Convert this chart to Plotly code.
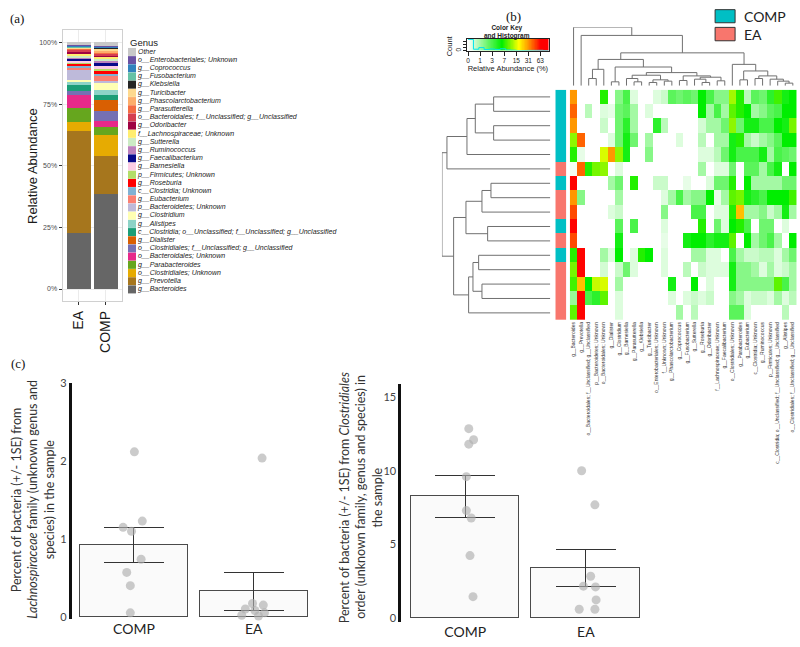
import numpy as np
import plotly.graph_objects as go

W, H = 800, 647
def fx(p):
    return p / W
def fy(p):
    return 1 - p / H

# ---------------- Panel (a): stacked relative abundance ----------------
samples_a = ["EA", "COMP"]
genera = [
    "Other", "o__Enterobacteriales; Unknown", "g__Coprococcus", "g__Fusobacterium",
    "g__Klebsiella", "g__Turicibacter", "g__Phascolarctobacterium", "g__Parasutterella",
    "o__Bacteroidales; f__Unclassified; g__Unclassified", "g__Odoribacter",
    "f__Lachnospiraceae; Unknown", "g__Sutterella", "g__Ruminococcus", "g__Faecalibacterium",
    "g__Barnesiella", "p__Firmicutes; Unknown", "g__Roseburia", "c__Clostridia; Unknown",
    "g__Eubacterium", "p__Bacteroidetes; Unknown", "g__Clostridium", "g__Alistipes",
    "c__Clostridia; o__Unclassified; f__Unclassified; g__Unclassified", "g__Dialister",
    "o__Clostridiales; f__Unclassified; g__Unclassified", "o__Bacteroidales; Unknown",
    "g__Parabacteroides", "o__Clostridiales; Unknown", "g__Prevotella", "g__Bacteroides",
]
genus_colors = [
    "#c8c8c8", "#6a51a3", "#3182bd", "#66c2a5", "#252525", "#fed98e", "#fdae6b", "#f46d43",
    "#d53e4f", "#9e0142", "#ffed6f", "#ccebc5", "#bc80bd", "#08088a", "#fccde5", "#b3de69",
    "#ff0000", "#80b1d3", "#fb8072", "#bebada", "#ffffb3", "#8dd3c7", "#1b9e77", "#d95f02",
    "#7570b3", "#e7298a", "#66a61e", "#e6ab02", "#a6761d", "#666666",
]
abund_EA = [1.0, 0.3, 0.3, 0.4, 0.1, 0.3, 0.3, 0.4, 0.7, 1.0, 0.4, 0.8, 0.5, 1.0, 0.5,
            0.5, 1.0, 0.5, 1.3, 4.0, 0.5, 1.3, 2.4, 0.2, 1.6, 5.3, 5.6, 3.6, 41.5, 22.5]
abund_COMP = [1.3, 0.3, 0.4, 0.3, 0.4, 0.5, 0.8, 0.6, 0.8, 0.5, 0.8, 0.5, 0.8, 1.6, 1.1,
              0.6, 1.6, 0.7, 2.0, 0.6, 3.3, 2.0, 2.0, 4.5, 4.0, 2.5, 3.0, 8.5, 15.5, 38.5]
pct_ticks = [0, 0.25, 0.5, 0.75, 1.0]
pct_labels = ["0%", "25%", "50%", "75%", "100%"]

# ---------------- Panel (b): heatmap ----------------
hm_cols = [
    "g__Bacteroides", "g__Prevotella", "o__Bacteroidales; f__Unclassified; g__Unclassified",
    "p__Bacteroidetes; Unknown", "o__Bacteroidales; Unknown", "g__Dialister", "g__Clostridium",
    "g__Barnesiella", "g__Parasutterella", "g__Klebsiella", "g__Turicibacter",
    "o__Enterobacteriales; Unknown", "f__Unknown; Unknown", "g__Phascolarctobacterium",
    "g__Coprococcus", "g__Fusobacterium", "g__Sutterella", "g__Roseburia", "g__Odoribacter",
    "f__Lachnospiraceae; Unknown", "g__Faecalibacterium", "o__Clostridiales; Unknown",
    "g__Parabacteroides", "g__Eubacterium", "c__Clostridia; Unknown", "g__Ruminococcus",
    "p__Firmicutes; Unknown", "c__Clostridia; o__Unclassified; f__Unclassified; g__Unclassified",
    "g__Alistipes", "o__Clostridiales; f__Unclassified; g__Unclassified",
]
hm_groups = ["COMP", "COMP", "COMP", "COMP", "COMP", "EA", "COMP", "EA",
             "EA", "COMP", "EA", "COMP", "EA", "EA", "EA", "EA"]
hm_values = [
    [31, 0, 0, 0, 7, 0, 1.5, 3, 0.3, 0, 0, 0.3, 0.5, 2.5, 2, 2.5, 2, 6, 3, 1.5, 1.5, 12, 7, 0.7, 2.5, 2, 4, 8, 5, 6],
    [40, 0, 0.7, 0, 0.3, 0.2, 2, 2.5, 1, 0, 0.3, 0, 0, 0, 0, 0, 0, 6, 1, 3, 1, 9, 7, 6, 1, 1.5, 2.5, 3, 6, 6],
    [31, 0, 0, 0, 0.5, 0, 2, 4, 1, 0, 0, 4, 0.7, 0, 0, 0, 0, 0.4, 1, 1, 2, 11, 2, 5, 5, 3, 3, 6, 5, 10],
    [11, 40, 0, 0, 0, 0.3, 2, 5, 2, 0, 1, 0, 0, 0, 0.3, 0, 0, 0.7, 0, 1, 1, 5, 7, 1, 0.5, 1, 1.5, 2.5, 6, 6],
    [7, 0.2, 0, 0, 15, 31, 11, 5, 0, 0, 1.5, 0, 0, 0, 0, 0, 0, 0.3, 0.3, 0.7, 2, 5, 3, 3, 3, 5, 1, 3, 2.5, 2],
    [0.1, 40, 7, 10, 11, 0, 0.3, 0, 0, 0, 0, 0, 0, 0, 0, 0, 0, 1, 0, 0.3, 0.3, 2, 0, 2.5, 2.5, 1, 3, 5, 0, 6],
    [63, 0, 0, 0, 0, 1, 2, 0, 7, 0, 0, 0.5, 0.5, 0, 0, 0.2, 0, 0, 0.3, 2, 2, 7, 0, 6, 1, 1, 1, 1, 2, 2],
    [31, 1.5, 0, 0, 0, 0, 1, 0, 0, 0, 0, 0, 0.3, 1, 3, 1, 1.5, 1.5, 6, 0.2, 1, 9, 10, 5, 4, 3, 6, 6, 6, 8],
    [45, 0, 0, 0, 0, 0.3, 0.5, 0, 0, 0, 0, 0, 1.5, 0, 0, 0, 3, 3, 0, 0.3, 0.3, 7, 25, 1, 1, 1.5, 0.5, 1, 5, 1],
    [63, 0, 0, 0, 0, 0, 2.5, 0, 3, 0, 0, 0, 0.3, 0, 0, 0, 0, 7, 0, 2, 0.3, 6, 7, 3, 0, 2, 2, 0, 0.3, 0],
    [45, 0, 0, 0, 0, 0, 5, 0, 0, 0, 0, 0, 0.2, 0, 0, 5, 6, 6, 4, 5, 5, 9, 0, 6, 1, 2, 3, 1, 0, 6],
    [7, 63, 0, 0, 1, 0.3, 6, 0, 0.3, 7, 6, 0, 0.3, 0, 0, 0, 1, 1, 0.3, 0.3, 0, 3, 1, 0.5, 0.5, 0.7, 0.7, 0.3, 1, 2],
    [10, 63, 0, 0, 0.4, 0, 0.5, 2, 0.3, 0, 0, 0, 0.3, 0, 0, 0.7, 0, 0.5, 0.3, 0.3, 0.3, 5, 1.5, 1.5, 1, 0.3, 1, 0.3, 0.5, 1],
    [8, 25, 6, 14, 15, 0, 1, 0, 0, 0, 0, 0, 0, 5, 0, 0, 6, 0, 0.3, 0, 0, 5, 1.5, 1.5, 1.5, 1.5, 1.5, 9, 3, 1],
    [1.2, 63, 3, 4, 9, 0, 0.3, 0, 0, 0, 0, 0, 0, 0.3, 0, 0.3, 0.5, 0.3, 0.5, 0, 0, 1.5, 1, 0.3, 0.5, 0.5, 0.3, 1, 0.3, 0.7],
    [9, 63, 0, 0, 0, 0, 0.3, 0, 0, 0, 0, 0, 0, 0, 1, 0, 0.7, 0, 0, 0, 0, 2.5, 2.5, 0.3, 0, 0, 0, 0, 0.7, 0],
]
key_ticks = [0, 1, 3, 7, 15, 31, 63]
key_max = 6.69

# dendrograms: (left, right, height); ints are leaf display positions
row_tree = (((((0, 1, 170), (2, 3, 170), 225), 4, 250), 5, 310),
            ((((6, 7, 178), 8, 205), (9, 10, 188), 253),
             ((((11, 12, 215), (13, 14, 205), 232), 15, 245)), 290), 325)
col_tree = (0, (1, ((((2, 3, 22), 4, 50),
                     ((5, 6, 12),
                      (((7, (8, 9, 12), 22), ((10, 11, 10), (12, 13, 14), 18), 32),
                       ((14, 15, 16), ((16, (17, 18, 10), 20), (19, 20, 15), 26), 30), 40), 57), 80),
                    (21, ((22, 23, 18), ((24, 25, 22), (26, (27, (28, 29, 8), 14), 20), 30), 45), 65),
                    100), 153), 178)

# ---------------- Panel (c) ----------------
c_groups = ["COMP", "EA"]
lach_comp = [2.12, 1.23, 1.15, 1.10, 0.74, 0.57, 0.40, 0.05]
lach_comp_dx = [0.004, 0.07, -0.09, -0.02, 0.06, -0.06, -0.03, -0.03]
lach_ea = [2.04, 0.17, 0.15, 0.10, 0.08, 0.05, 0.02, 0.01]
lach_ea_dx = [0.07, -0.01, 0.08, -0.07, 0.01, 0.09, -0.10, 0.04]
clos_comp = [12.85, 12.1, 11.8, 9.6, 7.3, 6.8, 4.25, 1.47]
clos_comp_dx = [0.03, 0.07, 0.03, 0.01, 0.01, 0.05, 0.04, 0.065]
clos_ea = [10.0, 7.69, 2.85, 2.18, 2.13, 1.25, 0.62, 0.62]
clos_ea_dx = [-0.035, 0.075, 0.04, -0.02, 0.08, 0.085, -0.055, 0.075]

# ======================================================================
fig = go.Figure()
SANS = "Liberation Sans"
LATO = "Lato"

# ---- (a) stacked bars ----
tot_ea = sum(abund_EA)
tot_comp = sum(abund_COMP)
for i in reversed(range(len(genera))):
    fig.add_trace(go.Bar(
        x=samples_a, y=[abund_EA[i] / tot_ea, abund_COMP[i] / tot_comp],
        marker=dict(color=genus_colors[i], line=dict(width=0)), width=0.9,
        name=genera[i], showlegend=False, xaxis="x", yaxis="y"))

# ---- (a) legend as a marker column ----
fig.add_trace(go.Scatter(
    x=[0] * len(genera), y=list(range(len(genera))), mode="markers+text",
    marker=dict(symbol="square", size=8, color=genus_colors, line=dict(width=0)),
    text=["<i>" + g + "</i>" for g in genera], textposition="middle right",
    textfont=dict(family=SANS, size=7, color="#222222"),
    showlegend=False, hoverinfo="skip", xaxis="x2", yaxis="y2", cliponaxis=False))

# ---- (b) heatmap ----
zlog = np.log2(np.array(hm_values, dtype=float) + 1)
cscale = [[0, "#ffffff"], [0.42, "#00ee00"], [0.63, "#ffff00"], [0.76, "#ff8c00"],
          [0.9, "#ff0000"], [1, "#ff0000"]]
fig.add_trace(go.Heatmap(z=zlog, x=list(range(len(hm_cols))), y=list(range(len(hm_groups))),
                         colorscale=cscale, zmin=0, zmax=key_max, showscale=False,
                         xaxis="x3", yaxis="y3", hoverinfo="skip"))
grp_code = [[0 if g == "COMP" else 1] for g in hm_groups]
fig.add_trace(go.Heatmap(z=grp_code, x=[0], y=list(range(len(hm_groups))),
                         colorscale=[[0, "#00BFC4"], [0.5, "#00BFC4"], [0.5, "#F8766D"], [1, "#F8766D"]],
                         zmin=0, zmax=1, showscale=False, xaxis="x4", yaxis="y4", hoverinfo="skip"))

def dendro(node, pos_list, h_list):
    if isinstance(node, int):
        return float(node), 0.0
    left, right, h = node
    lp, lh = dendro(left, pos_list, h_list)
    rp, rh = dendro(right, pos_list, h_list)
    pos_list += [lp, lp, rp, rp, None]
    h_list += [lh, h, h, rh, None]
    return (lp + rp) / 2, h

rp_, rh_ = [], []
dendro(row_tree, rp_, rh_)
fig.add_trace(go.Scatter(x=rh_, y=rp_, mode="lines", line=dict(color="#707070", width=1),
                         showlegend=False, hoverinfo="skip", xaxis="x5", yaxis="y5"))
cp_, ch_ = [], []
dendro(col_tree, cp_, ch_)
fig.add_trace(go.Scatter(x=cp_, y=ch_, mode="lines", line=dict(color="#707070", width=1),
                         showlegend=False, hoverinfo="skip", xaxis="x6", yaxis="y6"))

# ---- (b) colour key + histogram ----
key_z = np.linspace(-0.08, key_max, 140)
fig.add_trace(go.Heatmap(z=[key_z], x=key_z, y=[0.5], colorscale=cscale, zmin=0, zmax=key_max,
                         showscale=False, xaxis="x7", yaxis="y7", hoverinfo="skip"))
counts, edges = np.histogram(zlog.flatten(), bins=np.linspace(0, key_max, 16))
hist_y = list(counts / counts.max() * 0.95) + [counts[-1] / counts.max() * 0.95]
fig.add_trace(go.Scatter(x=list(edges), y=hist_y, mode="lines", line=dict(color="#00e5ee", width=1, shape="hv"),
                         showlegend=False, hoverinfo="skip", xaxis="x7", yaxis="y7"))

# ---- (c) bar charts ----
def mean_se(v):
    a = np.array(v)
    return a.mean(), a.std(ddof=1) / np.sqrt(len(a))

def add_c(comp, comp_dx, ea, ea_dx, xa, ya):
    m1, s1 = mean_se(comp)
    m2, s2 = mean_se(ea)
    fig.add_trace(go.Bar(x=[0, 1], y=[m1, m2], width=0.9,
                         marker=dict(color="#fafafa", line=dict(color="#4a4a4a", width=1)),
                         error_y=dict(type="data", array=[s1, s2], color="#333333", thickness=1, width=30),
                         showlegend=False, hoverinfo="skip", xaxis=xa, yaxis=ya))
    xs = [0 + d for d in comp_dx] + [1 + d for d in ea_dx]
    fig.add_trace(go.Scatter(x=xs, y=list(comp) + list(ea), mode="markers",
                             marker=dict(size=9, color="rgba(175,175,175,0.65)", line=dict(width=0)),
                             showlegend=False, hoverinfo="skip", xaxis=xa, yaxis=ya, cliponaxis=False))

add_c(lach_comp, lach_comp_dx, lach_ea, lach_ea_dx, "x8", "y8")
add_c(clos_comp, clos_comp_dx, clos_ea, clos_ea_dx, "x9", "y9")

# ======================================================================
def blank(domain, rng, anchor, **kw):
    d = dict(domain=domain, range=rng, anchor=anchor, showgrid=False, zeroline=False,
             showticklabels=False, ticks="", showline=False, fixedrange=True)
    d.update(kw)
    return d

hm_x_dom = [fx(569.5), fx(796.6)]
hm_y_dom = [fy(318), fy(84)]
nrow = len(hm_groups)
ncol = len(hm_cols)

layout = dict(
    width=W, height=H, margin=dict(l=0, r=0, t=0, b=0),
    paper_bgcolor="white", plot_bgcolor="white", barmode="stack", bargap=0,
    showlegend=False,
    xaxis=dict(domain=[fx(61.6), fx(121)], anchor="y", range=[-0.6, 1.6], type="category",
               tickangle=-90, tickfont=dict(family=SANS, size=14, color="#1a1a1a"),
               ticks="outside", ticklen=3, tickcolor="#333333",
               showgrid=True, gridcolor="#ebebeb", gridwidth=1,
               showline=True, mirror=True, linecolor="#d0d0d0", linewidth=1, zeroline=False),
    yaxis=dict(domain=[fy(299), fy(23.5)], anchor="x", range=[-0.05, 1.05],
               tickvals=pct_ticks, ticktext=pct_labels,
               tickfont=dict(family=SANS, size=7, color="#4d4d4d"),
               ticks="outside", ticklen=3, tickcolor="#333333",
               showgrid=True, gridcolor="#ebebeb", gridwidth=1,
               showline=True, mirror=True, linecolor="#d0d0d0", linewidth=1, zeroline=False),
    xaxis2=blank([fx(127.3), fx(345)], [-1.8, 100], "y2"),
    yaxis2=blank([fy(291), fy(41.5)], [len(genera) - 0.5, -0.5], "x2"),
    xaxis3=blank(hm_x_dom, [-0.5, ncol - 0.5], "y3", showticklabels=True,
                 tickmode="array", tickvals=list(range(ncol)), ticktext=hm_cols, tickangle=-90,
                 tickfont=dict(family=SANS, size=5, color="#333333")),
    yaxis3=blank(hm_y_dom, [nrow - 0.5, -0.5], "x3"),
    xaxis4=blank([fx(555), fx(566)], [-0.5, 0.5], "y4"),
    yaxis4=blank(hm_y_dom, [nrow - 0.5, -0.5], "x4"),
    xaxis5=blank([fx(441.5), fx(550)], [325, 0], "y5"),
    yaxis5=blank(hm_y_dom, [nrow - 0.5, -0.5], "x5"),
    xaxis6=blank(hm_x_dom, [-0.5, ncol - 0.5], "y6"),
    yaxis6=blank([fy(80), fy(20.5)], [0, 178], "x6"),
    xaxis7=blank([fx(466.7), fx(548.3)], [-0.08, key_max], "y7", showticklabels=True,
                 tickvals=list(range(len(key_ticks))), ticktext=[str(t) for t in key_ticks],
                 tickfont=dict(family=SANS, size=6.5, color="#222222"), ticks="outside",
                 ticklen=4, tickcolor="#222222", showline=True, mirror=True, linecolor="#222222",
                 linewidth=0.8,
                 title=dict(text="Relative Abundance (%)", font=dict(family=SANS, size=7.5, color="#222222"),
                            standoff=0)),
    yaxis7=blank([fy(44.3), fy(32.3)], [0, 1], "x7", showticklabels=True,
                 tickvals=[0, 0.25, 0.5, 0.75], ticktext=["0", "", "", ""], tickangle=-90,
                 tickfont=dict(family=SANS, size=6.5, color="#222222"), ticks="outside", ticklen=3,
                 tickcolor="#222222", showline=True, mirror=True, linecolor="#222222", linewidth=0.8),
    xaxis8=blank([fx(70.7), fx(313)], [-0.52, 1.5], "y8", showticklabels=True,
                 tickvals=[0, 1], ticktext=c_groups,
                 tickfont=dict(family=LATO, size=14, color="#222222")),
    yaxis8=blank([fy(621.7), fy(381.7)], [-0.03, 3.008], "x8", showticklabels=True,
                 tickvals=[0, 1, 2, 3], tickfont=dict(family=LATO, size=11, color="#444444"),
                 showline=True, linecolor="#111111", linewidth=2.5),
    xaxis9=blank([fx(400.7), fx(646)], [-0.53, 1.5], "y9", showticklabels=True,
                 tickvals=[0, 1], ticktext=c_groups,
                 tickfont=dict(family=LATO, size=14, color="#222222")),
    yaxis9=blank([fy(625), fy(383.3)], [-0.27, 15.85], "x9", showticklabels=True,
                 tickvals=[0, 5, 10, 15], tickfont=dict(family=LATO, size=11, color="#444444"),
                 showline=True, linecolor="#111111", linewidth=2.5),
)
fig.update_layout(**layout)

ann = []
def A(text, x, y, size, family=SANS, color="#111111", angle=0, xanchor="center", **kw):
    ann.append(dict(text=text, x=fx(x), y=fy(y), xref="paper", yref="paper", showarrow=False,
                    font=dict(family=family, size=size, color=color), textangle=angle,
                    xanchor=xanchor, yanchor="middle", **kw))

SERIF = "Liberation Serif"
A("(a)", 16, 12, 13, family=SERIF)
A("(b)", 513, 10, 13, family=SERIF)
A("(c)", 17, 362, 13, family=SERIF)
A("Relative Abundance", 31.5, 161, 13, angle=-90, color="#1a1a1a")
A("Genus", 127.5, 36.5, 9.5, xanchor="left", color="#1a1a1a")
A("<b>Color Key<br>and Histogram</b>", 506.7, 25, 6.5, color="#222222")
A("Count", 448.5, 39, 7.5, angle=-90, color="#222222")
A("COMP", 742, 9.5, 14, family=LATO, xanchor="left", color="#222222")
A("EA", 742, 27.7, 14, family=LATO, xanchor="left", color="#222222")

left_title = ["Percent of bacteria (+/- 1SE) from",
              "<i>Lachnospiraceae</i> family (unknown genus and",
              "species) in the sample"]
for k, t in enumerate(left_title):
    A(t, 15 + 16.5 * k, 500, 12.5, family=LATO, angle=-90, color="#333333")
right_title = ["Percent of bacteria (+/- 1SE) from <i>Clostridiales</i>",
               "order (unknown family, genus and species) in",
               "the sample"]
for k, t in enumerate(right_title):
    A(t, 343.3 + 16.7 * k, 498, 12.5, family=LATO, angle=-90, color="#333333")

fig.update_layout(annotations=ann)

shapes = [
    dict(type="rect", xref="paper", yref="paper", x0=fx(715), x1=fx(735), y0=fy(16), y1=fy(2.7),
         fillcolor="#00BFC4", line=dict(color="#333333", width=1)),
    dict(type="rect", xref="paper", yref="paper", x0=fx(715), x1=fx(735), y0=fy(34.3), y1=fy(20.7),
         fillcolor="#F8766D", line=dict(color="#333333", width=1)),
]
fig.update_layout(shapes=shapes)

fig.write_html("out.html", config={"displayModeBar": False},
               post_script="document.body.style.margin='0px';document.body.style.overflow='hidden';")
